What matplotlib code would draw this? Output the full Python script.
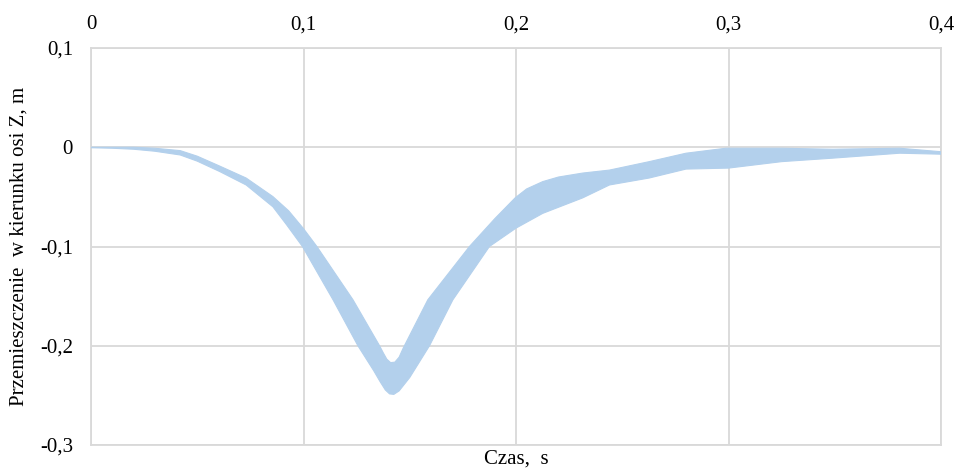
import matplotlib
matplotlib.use("Agg")
import matplotlib.pyplot as plt
from matplotlib.ticker import FixedLocator, FuncFormatter

# Upper envelope: time, s and displacement, m
t_upper = [0.000, 0.010, 0.020, 0.030, 0.042, 0.050, 0.0606, 0.073, 0.0856, 0.093,
           0.100, 0.1063, 0.1233, 0.1358, 0.1375, 0.1392, 0.1410, 0.1430, 0.1450,
           0.1470, 0.1585, 0.1781, 0.190, 0.1996, 0.205, 0.2126, 0.220, 0.2314,
           0.244, 0.2627, 0.280, 0.2987, 0.325, 0.349, 0.3806, 0.400]
z_upper = [0.000, 0.000, 0.000, -0.001, -0.0034, -0.009, -0.019, -0.031, -0.0497, -0.064,
           -0.082, -0.100, -0.1537, -0.200, -0.207, -0.2135, -0.2170, -0.2165, -0.2115,
           -0.2020, -0.1537, -0.100, -0.072, -0.051, -0.0420, -0.0346, -0.0300, -0.026,
           -0.023, -0.0145, -0.006, -0.001, -0.001, -0.002, -0.001, -0.0045]

# Lower envelope: time, s and displacement, m
t_lower = [0.000, 0.010, 0.020, 0.030, 0.042, 0.050, 0.0606, 0.073, 0.0856, 0.092,
           0.0995, 0.1139, 0.1256, 0.133, 0.136, 0.1385, 0.1405, 0.1425, 0.1450,
           0.150, 0.1593, 0.1703, 0.1875, 0.200, 0.2126, 0.2314, 0.244, 0.2627,
           0.280, 0.300, 0.325, 0.349, 0.3806, 0.400]
z_lower = [-0.0005, -0.001, -0.002, -0.004, -0.0078, -0.014, -0.0245, -0.038, -0.060, -0.078,
           -0.100, -0.1537, -0.200, -0.225, -0.236, -0.2445, -0.2485, -0.2490, -0.2455,
           -0.232, -0.200, -0.1537, -0.100, -0.0815, -0.0666, -0.051, -0.038, -0.031,
           -0.022, -0.021, -0.0145, -0.011, -0.006, -0.007]

x_ticks = [0, 0.1, 0.2, 0.3, 0.4]
y_ticks = [-0.3, -0.2, -0.1, 0, 0.1]
x_label = "Czas,  s"
y_label = "Przemieszczenie  w kierunku osi Z, m"

plt.rcParams['font.family'] = ['Liberation Serif', 'DejaVu Serif']

fig = plt.figure(figsize=(9.58, 4.72), dpi=100)
ax = fig.add_axes([91/958, 1-445/472, (941-91)/958, (445-48)/472])

band_x = list(t_upper) + list(t_lower)[::-1]
band_y = list(z_upper) + list(z_lower)[::-1]
ax.fill(band_x, band_y, facecolor='#b3d0ec', edgecolor='#b3d0ec',
        linewidth=0.8, zorder=3)

ax.set_xlim(0, 0.4)
ax.set_ylim(-0.3, 0.1)

def fmt(v, pos):
    if abs(v) < 1e-9:
        return "0"
    return ("%.1f" % v).replace('.', ',')

ax.xaxis.set_major_locator(FixedLocator(x_ticks))
ax.yaxis.set_major_locator(FixedLocator(y_ticks))
ax.xaxis.set_major_formatter(FuncFormatter(fmt))
ax.yaxis.set_major_formatter(FuncFormatter(fmt))
ax.xaxis.tick_top()
ax.tick_params(axis='x', length=0, pad=10, labelsize=15, colors='black')
ax.tick_params(axis='y', length=0, pad=13, labelsize=15, colors='black')

ax.grid(True, color='#d9d9d9', linewidth=1.3, zorder=0)
for s in ax.spines.values():
    s.set_color('#d9d9d9')
    s.set_linewidth(1.3)
ax.set_axisbelow(True)

ax.set_xlabel(x_label, fontsize=15, labelpad=3)
ax.xaxis.set_label_position('bottom')
ax.set_ylabel(y_label, fontsize=15, labelpad=8)

fig.savefig("out.png", dpi=100)
